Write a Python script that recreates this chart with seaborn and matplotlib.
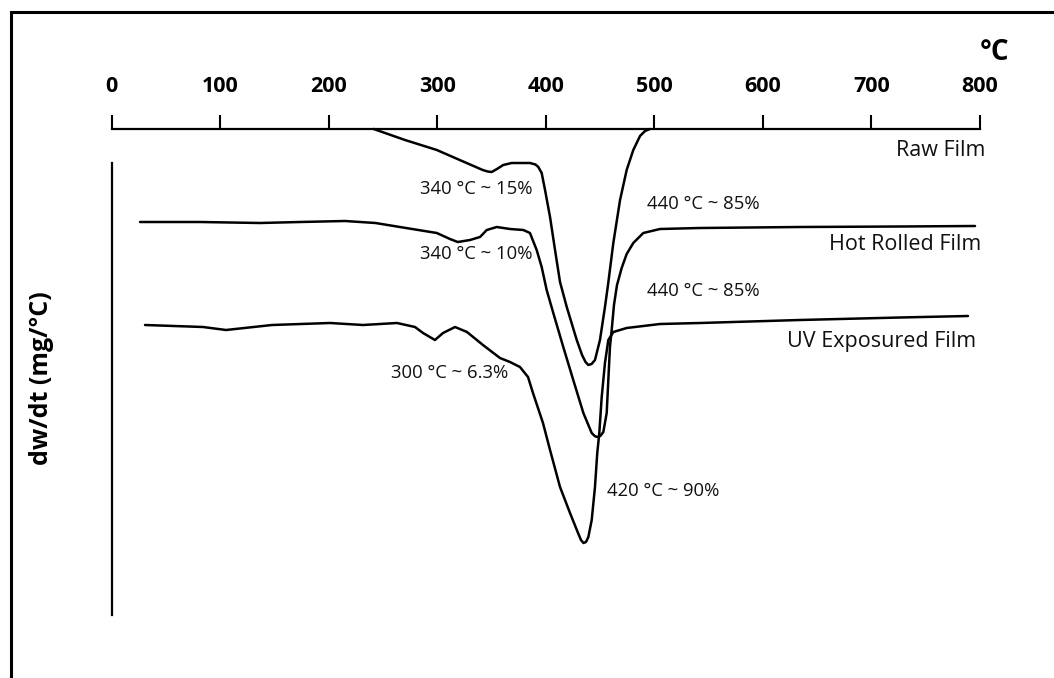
import numpy as np
import pandas as pd
import matplotlib
matplotlib.use("Agg")
import matplotlib.pyplot as plt
from matplotlib.patches import Rectangle
import seaborn as sns

# ---------------- data ----------------
temp_ticks = [0, 100, 200, 300, 400, 500, 600, 700, 800]
tick_labels = ["0", "100", "200", "300", "400", "500", "600", "700", "800"]

series_names = ["Raw Film", "Hot Rolled Film", "UV Exposured Film"]

raw_T = [241.4, 270.3, 299.6, 320.7, 341.9, 346.5, 350.2, 355.0, 360.8, 368.6,
         385.4, 390.5, 393.1, 396.2, 399.3, 403.9, 408.5, 413.1, 419.3, 428.5,
         433.4, 436.6, 439.2, 442.2, 445.3, 449.9, 454.5, 457.3, 462.2, 468.4,
         474.5, 480.6, 486.8, 491.4, 496.0]
raw_y = [0.00, -0.11, -0.21, -0.31, -0.41, -0.425, -0.43, -0.40, -0.36, -0.34,
         -0.34, -0.355, -0.38, -0.44, -0.61, -0.88, -1.21, -1.53, -1.78, -2.11,
         -2.26, -2.33, -2.36, -2.35, -2.31, -2.11, -1.78, -1.56, -1.14, -0.71,
         -0.41, -0.21, -0.07, -0.02, 0.00]

hot_T = [26.2, 81.4, 136.7, 173.6, 215.0, 243.1, 271.2, 299.6, 311.7, 318.9,
         330.2, 339.4, 345.6, 354.8, 367.0, 379.3, 385.4, 391.6, 396.2, 400.8,
         406.9, 416.1, 425.3, 434.6, 442.3, 445.0, 447.2, 450.2, 453.0, 456.1,
         457.6, 459.1, 460.7, 462.8, 465.6, 469.9, 474.5, 480.6, 489.8, 505.2,
         542.0, 634.2, 726.3, 795.4]
hot_y = [-0.93, -0.93, -0.94, -0.93, -0.92, -0.94, -0.99, -1.04, -1.10, -1.13,
         -1.11, -1.08, -1.01, -0.98, -1.00, -1.01, -1.04, -1.21, -1.38, -1.61,
         -1.84, -2.18, -2.51, -2.84, -3.04, -3.07, -3.08, -3.07, -3.03, -2.84,
         -2.51, -2.18, -2.01, -1.76, -1.56, -1.39, -1.25, -1.14, -1.04, -1.00,
         -0.99, -0.98, -0.975, -0.97]

uv_T = [30.8, 84.2, 105.4, 147.8, 201.2, 231.6, 262.9, 279.5, 286.9, 297.9,
        305.3, 316.4, 327.4, 342.1, 357.8, 367.0, 376.2, 383.6, 388.2, 397.4,
        403.9, 413.1, 422.3, 429.7, 432.4, 434.7, 437.0, 439.2, 442.3, 445.3,
        447.4, 449.3, 451.5, 454.5, 457.6, 462.2, 474.5, 505.2, 542.0, 634.2,
        726.3, 788.9]
uv_y = [-1.96, -1.98, -2.01, -1.96, -1.94, -1.96, -1.94, -1.98, -2.04, -2.11,
        -2.04, -1.98, -2.03, -2.16, -2.29, -2.33, -2.38, -2.48, -2.64, -2.94,
        -3.21, -3.58, -3.84, -4.04, -4.11, -4.14, -4.13, -4.08, -3.91, -3.58,
        -3.24, -3.04, -2.68, -2.34, -2.11, -2.03, -1.99, -1.95, -1.94, -1.91,
        -1.885, -1.87]

peak_labels = ["340 °C ~ 15%", "340 °C ~ 10%", "440 °C ~ 85%",
               "440 °C ~ 85%", "300 °C ~ 6.3%", "420 °C ~ 90%"]

# ---------------- build frame ----------------
df = pd.concat([
    pd.DataFrame({"T": raw_T, "dwdt": raw_y, "series": series_names[0]}),
    pd.DataFrame({"T": hot_T, "dwdt": hot_y, "series": series_names[1]}),
    pd.DataFrame({"T": uv_T, "dwdt": uv_y, "series": series_names[2]}),
], ignore_index=True)

sns.set_theme(style="white")
plt.rcParams["font.family"] = ["Open Sans", "DejaVu Sans"]

W, H = 1054, 678
fig = plt.figure(figsize=(W / 100, H / 100), dpi=100)
ax = fig.add_axes([111.6 / W, 1 - 615 / H, (980 - 111.6) / W, (615 - 129) / H])

sns.lineplot(data=df, x="T", y="dwdt", units="series", estimator=None,
             sort=False, color="black", linewidth=1.8, ax=ax, legend=False)
for ln in ax.lines:
    ln.set_clip_on(False)
    ln.set_solid_joinstyle("round")
    ln.set_solid_capstyle("round")

ax.set_xlim(0, 800)
ax.set_ylim(-4.86, 0)

# top temperature axis
ax.xaxis.tick_top()
ax.set_xticks(temp_ticks)
ax.set_xticklabels(tick_labels, fontsize=15.5, fontweight="bold", color="black")
ax.tick_params(axis="x", direction="out", length=10, width=1.5, pad=13,
               top=True, bottom=False, colors="black")
ax.set_yticks([])
ax.set_xlabel("")
ax.set_ylabel("")
for side in ["right", "bottom"]:
    ax.spines[side].set_visible(False)
ax.spines["top"].set_linewidth(1.6)
ax.spines["top"].set_color("black")
ax.spines["left"].set_linewidth(1.6)
ax.spines["left"].set_color("black")
ax.spines["left"].set_bounds(-4.86, -0.34)

# unit and y label
fig.text(995 / W, 1 - 52 / H, "°C", fontsize=20, fontweight="bold",
         ha="center", va="center", color="black")
fig.text(42 / W, 1 - 378 / H, "dw/dt (mg/°C)", fontsize=18, fontweight="bold",
         rotation=90, ha="center", va="center", color="black")

# peak annotations
ann_pos = [(284.1, -0.60), (284.1, -1.25), (493.2, -0.75),
           (493.2, -1.62), (257.1, -2.44), (456.1, -3.62)]
for (tx, ty), lab in zip(ann_pos, peak_labels):
    ax.text(tx, ty, lab, fontsize=13.3, ha="left", va="center", color="#111111")

# series labels
name_pos = [(804.6, -0.22), (801.5, -1.16), (796.3, -2.13)]
for (tx, ty), lab in zip(name_pos, series_names):
    ax.text(tx, ty, lab, fontsize=15.5, ha="right", va="center", color="#111111")

# outer frame
fig.patches.append(Rectangle((11 / W, -0.1), 1.2, 1.1 - 12 / H,
                             transform=fig.transFigure, fill=False,
                             edgecolor="black", linewidth=2.2))

fig.savefig("out.png", dpi=100, facecolor="white")
